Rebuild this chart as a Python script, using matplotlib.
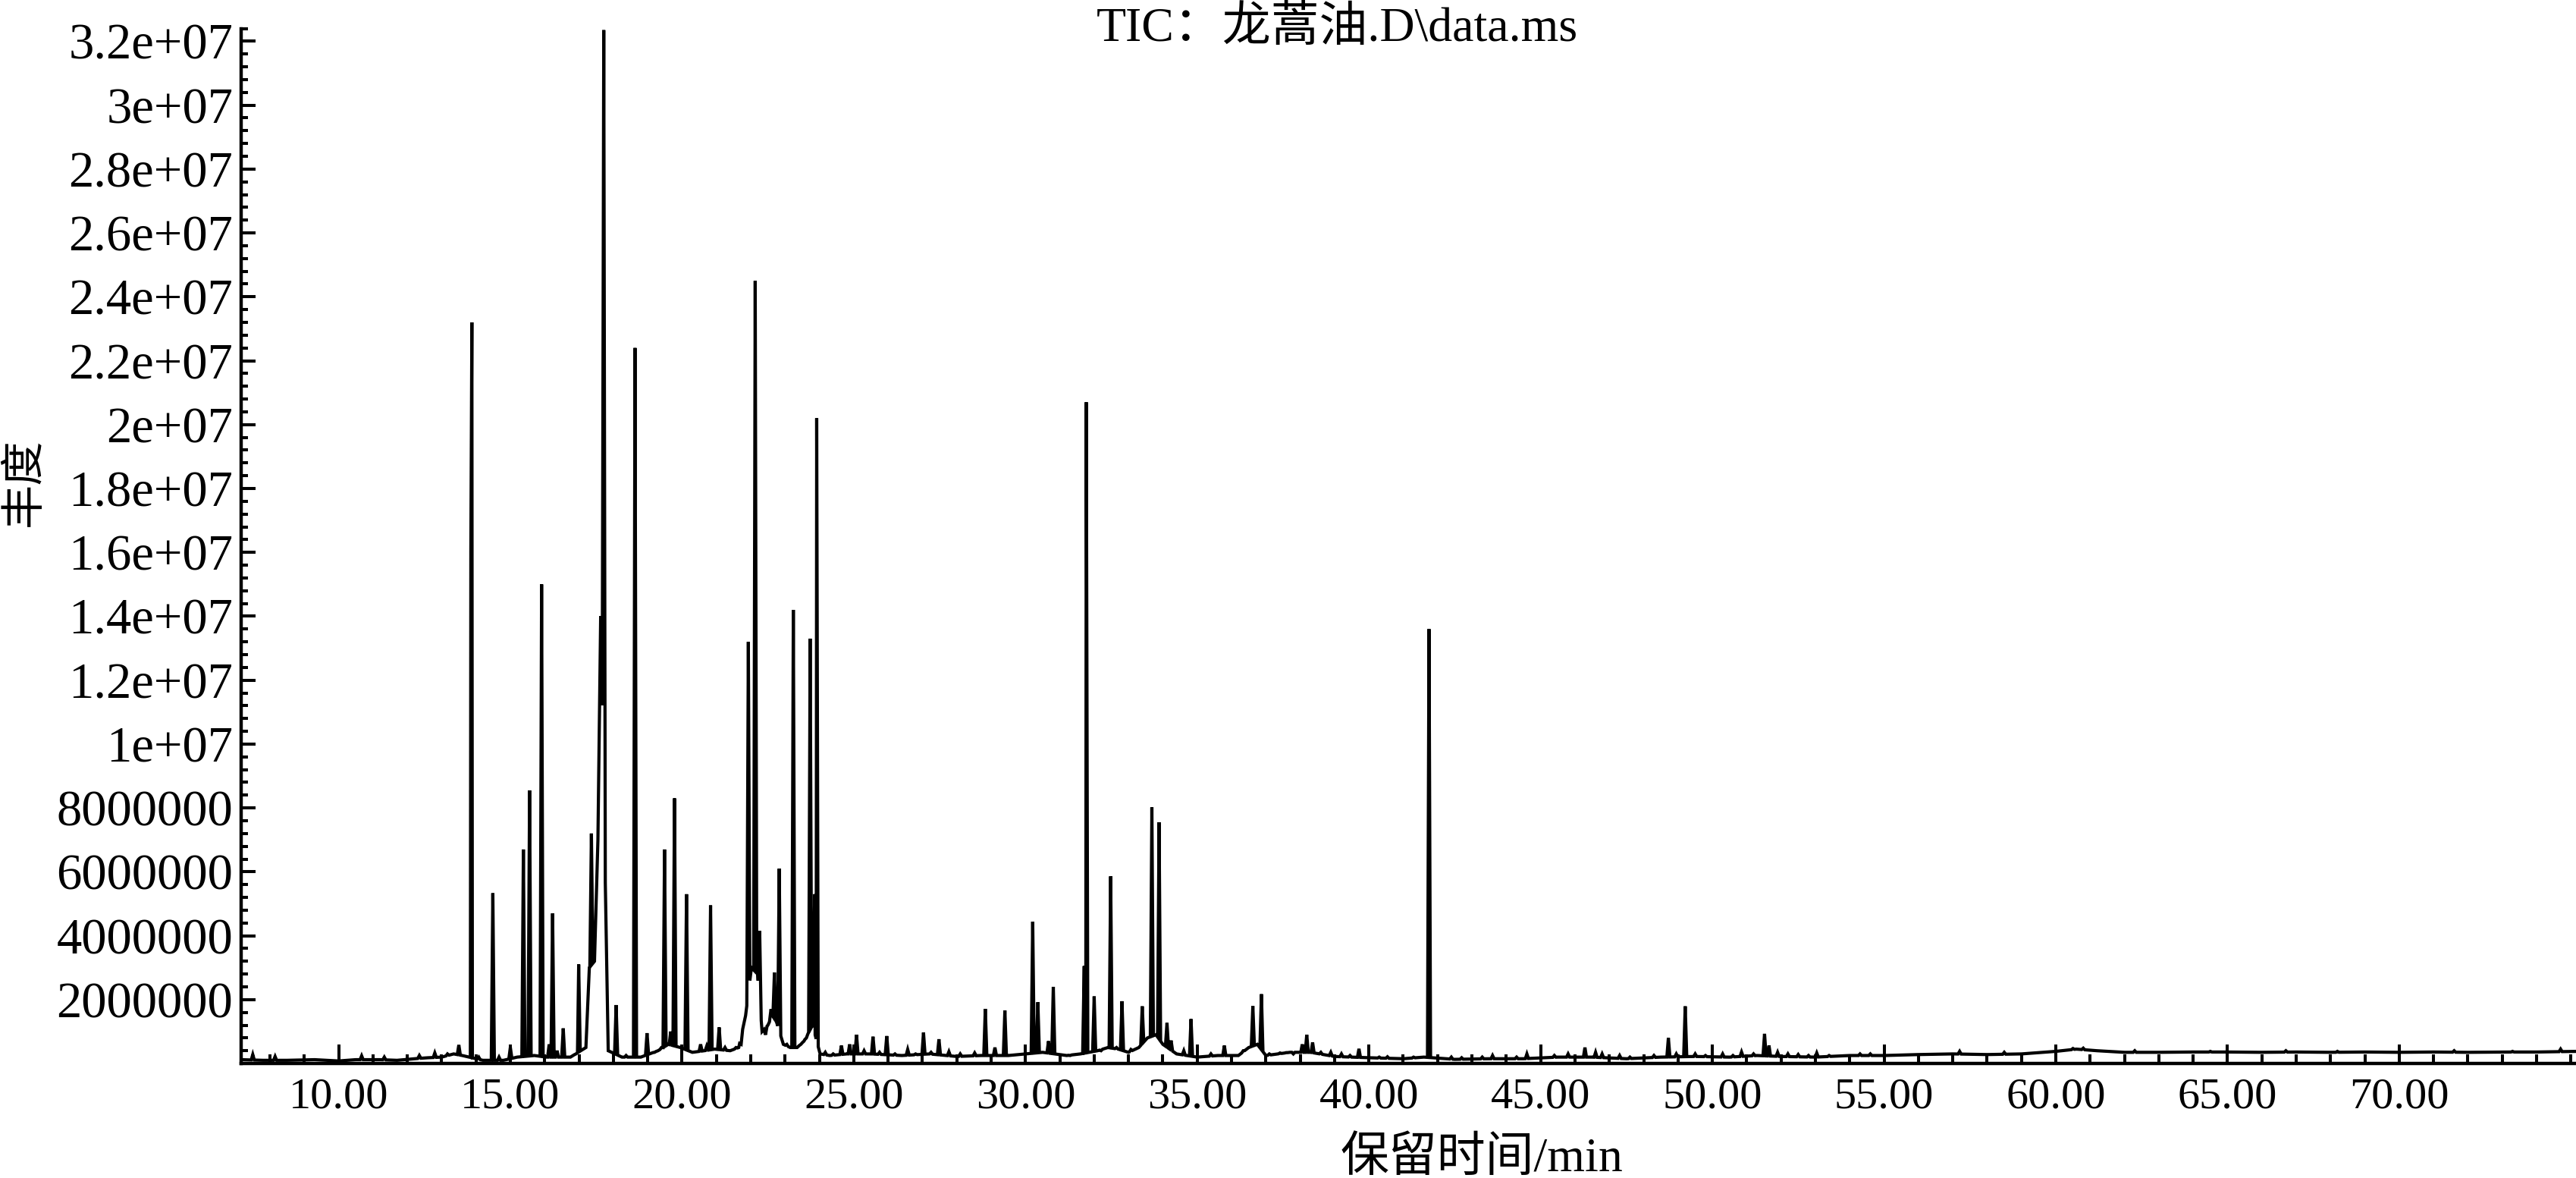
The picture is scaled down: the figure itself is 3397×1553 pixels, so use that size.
import numpy as np
import matplotlib
matplotlib.use("Agg")
import matplotlib.pyplot as plt
from matplotlib.ticker import MultipleLocator, FixedLocator, FuncFormatter

plt.rcParams['font.family'] = ['Liberation Serif', 'Noto Sans CJK SC']

# peaks: retention time (min) and apex abundance (x 1e6)
peak_rt = [7.5, 8.15, 10.67, 11.33, 12.35, 12.8, 13.17, 13.5,
           13.85, 13.88, 14.08, 14.49, 14.67, 15.0, 15.38, 15.56, 15.91, 16.13,
           16.23, 16.36, 16.54, 16.91, 16.99, 17.36, 17.72, 18.08, 18.37, 18.63,
           18.98, 19.2, 19.4, 19.49, 19.67, 19.78, 20.13, 20.54, 20.72, 20.83,
           21.08, 21.25, 21.57, 21.72, 21.93, 22.13, 22.26, 22.43, 22.59, 22.69,
           22.83, 23.05, 23.24, 23.46, 23.62, 23.73, 23.86, 23.92, 24.17, 24.4,
           24.64, 24.88, 25.08, 25.3, 25.56, 25.75, 25.96, 26.2, 26.57, 26.8,
           27.03, 27.25, 27.48, 27.77, 28.1, 28.52, 28.83, 29.11, 29.4, 29.7,
           30.21, 30.36, 30.67, 30.81, 31.3, 31.71, 31.77, 32.0, 32.2, 32.48,
           32.65, 32.81, 33.07, 33.4, 33.68, 33.89, 34.12, 34.24, 34.61, 34.82,
           35.4, 35.79, 36.34, 36.62, 36.87, 37.1, 37.41, 37.59, 37.8, 38.06,
           38.19, 38.36, 38.6, 38.89, 39.2, 39.45, 39.71, 40.3, 40.54, 41.3,
           41.75, 42.4, 42.7, 43.3, 43.6, 44.3, 44.6, 45.4, 45.8, 46.29,
           46.6, 46.79, 47.3, 47.6, 48.3, 48.72, 48.95, 49.21, 49.5, 49.8,
           50.3, 50.6, 50.85, 51.2, 51.52, 51.65, 51.9, 52.2, 52.5, 52.8,
           53.04, 53.4, 54.3, 54.6, 57.2, 58.5, 60.5, 60.8, 62.3, 64.5,
           66.7, 68.2, 71.6, 73.3, 74.7]
peak_abund = [0.28, 0.22, 0.24, 0.2, 0.25, 0.33, 0.3, 0.58,
              16.1, 23.2, 0.2, 5.33, 0.2, 0.5, 6.7, 8.55, 15.0, 0.6,
              4.7, 0.4, 1.1, 0.3, 3.1, 7.2, 32.35, 1.83, 0.25, 22.4,
              0.95, 0.35, 0.5, 6.7, 1.0, 8.3, 5.3, 0.6, 0.55, 4.95,
              1.13, 0.5, 0.5, 0.6, 13.2, 24.5, 4.15, 0.9, 1.7, 2.85,
              6.1, 0.6, 14.2, 0.6, 0.8, 13.3, 5.3, 20.2, 0.35, 0.3,
              0.56, 0.6, 0.9, 0.4, 0.84, 0.35, 0.86, 0.3, 0.44, 0.3,
              0.97, 0.35, 0.76, 0.37, 0.3, 0.33, 1.71, 0.5, 1.66, 0.27,
              4.44, 1.92, 0.7, 2.4, 0.25, 3.05, 20.7, 2.1, 0.4, 5.86,
              0.5, 1.95, 0.44, 1.79, 8.02, 7.55, 1.27, 0.72, 0.4, 1.39,
              0.3, 0.56, 0.4, 1.8, 2.17, 0.3, 0.33, 0.34, 0.3, 0.6,
              0.9, 0.66, 0.35, 0.35, 0.3, 0.25, 0.46, 0.2, 0.21, 0.2,
              13.6, 0.2, 0.18, 0.2, 0.25, 0.2, 0.3, 0.25, 0.3, 0.5,
              0.35, 0.3, 0.25, 0.2, 0.25, 0.8, 0.3, 1.79, 0.3, 0.25,
              0.3, 0.25, 0.36, 0.3, 0.93, 0.56, 0.35, 0.3, 0.28, 0.25,
              0.33, 0.25, 0.3, 0.3, 0.38, 0.35, 0.47, 0.48, 0.4, 0.38,
              0.4, 0.38, 0.4, 0.38, 0.45]

# baseline level between peaks (min, x 1e6)
base_rt = [7.17, 7.8, 8.5, 9.3, 10.0, 10.5, 11.2, 11.7, 12.2, 12.6, 13.0, 13.35,
           13.6, 14.2, 14.8, 15.2, 15.7, 16.05, 16.45, 16.75, 17.2, 17.3, 17.45,
           17.55, 17.63, 17.85, 18.25, 18.8, 19.05, 19.3, 19.6, 19.95, 20.3, 20.65,
           20.95, 21.4, 21.65, 21.85, 22.02, 22.2, 22.33, 22.5, 22.63, 22.75, 22.95,
           23.15, 23.35, 23.55, 23.8, 24.02, 24.3, 24.8, 25.5, 26.4, 27.2, 28.0,
           28.7, 29.5, 30.0, 30.5, 31.2, 31.6, 32.1, 32.4, 32.7, 33.0, 33.3, 33.55,
           33.8, 34.0, 34.4, 35.0, 35.6, 36.2, 36.5, 36.75, 37.0, 37.7, 38.3, 39.0,
           40.0, 41.0, 41.6, 42.5, 43.5, 44.5, 45.5, 46.5, 47.5, 48.5, 49.5, 50.5,
           51.3, 52.0, 53.0, 54.0, 55.0, 56.0, 57.0, 58.0, 59.0, 60.0, 60.6, 61.2,
           62.0, 63.0, 64.0, 65.0, 66.0, 67.0, 68.0, 69.0, 70.0, 71.0, 72.0, 73.0,
           74.0, 75.2]
base_abund = [0.12, 0.1, 0.1, 0.12, 0.08, 0.12, 0.12, 0.1, 0.15, 0.18, 0.2, 0.3,
              0.25, 0.1, 0.1, 0.2, 0.25, 0.2, 0.2, 0.2, 0.5, 3.0, 3.2,
              7.0, 14.0, 0.4, 0.2, 0.2, 0.3, 0.4, 0.6, 0.5, 0.35, 0.4,
              0.45, 0.4, 0.5, 1.5, 3.0, 2.8, 1.0, 1.2, 1.5, 1.3, 0.6,
              0.5, 0.5, 0.7, 1.2, 0.3, 0.25, 0.3, 0.3, 0.25, 0.3, 0.22,
              0.25, 0.25, 0.3, 0.35, 0.25, 0.3, 0.4, 0.5, 0.45, 0.35, 0.5, 0.8,
              0.9, 0.6, 0.3, 0.2, 0.25, 0.25, 0.5, 0.6, 0.25, 0.35, 0.35, 0.22,
              0.18, 0.15, 0.2, 0.13, 0.15, 0.15, 0.2, 0.2, 0.15, 0.2, 0.22, 0.2,
              0.25, 0.22, 0.2, 0.25, 0.25, 0.28, 0.3, 0.28, 0.3, 0.38, 0.45, 0.4,
              0.35, 0.35, 0.36, 0.36, 0.35, 0.36, 0.35, 0.36, 0.35, 0.36, 0.35, 0.36,
              0.36, 0.38]

x_major = [10, 15, 20, 25, 30, 35, 40, 45, 50, 55, 60, 65, 70]
title_text = "TIC：龙蒿油.D\\data.ms"
x_label = "保留时间/min"
y_label = "丰度"

# build the trace: baseline anchors plus a narrow triangle for every peak
half_w = 0.045
prt = np.array(peak_rt)
pab = np.array(peak_abund) * 1e6
brt = np.array(base_rt)
bab = np.array(base_abund) * 1e6
keep = np.array([np.min(np.abs(prt - t)) > half_w for t in brt])

left = prt - half_w
right = prt + half_w
tri_x = np.column_stack([left, prt, right]).ravel()
tri_y = np.column_stack([np.interp(left, brt, bab), pab, np.interp(right, brt, bab)]).ravel()

x_all = np.concatenate([brt[keep], tri_x])
y_all = np.concatenate([bab[keep], tri_y])
order = np.argsort(x_all, kind="stable")

fig = plt.figure(figsize=(16.99, 7.765), dpi=200)
ax = fig.add_axes([0.0937, 0.0972, 0.9063, 0.8786])
ax.plot(x_all[order], y_all[order], color="black", lw=1.5, solid_joinstyle="miter")

ax.set_xlim(7.17, 75.17)
ax.set_ylim(0, 3.24e7)

for s in ["top", "right"]:
    ax.spines[s].set_visible(False)
for s in ["left", "bottom"]:
    ax.spines[s].set_linewidth(1.6)

ax.xaxis.set_major_locator(FixedLocator(x_major))
ax.xaxis.set_minor_locator(MultipleLocator(1))
ax.xaxis.set_major_formatter(FuncFormatter(lambda v, p: "%.2f" % v))
ax.yaxis.set_major_locator(MultipleLocator(2e6))
ax.yaxis.set_minor_locator(MultipleLocator(4e5))


def fmt_y(v, pos):
    if v <= 0:
        return ""
    if v < 1e7:
        return "%d" % v
    return "%g" % v


ax.yaxis.set_major_formatter(FuncFormatter(fmt_y))

ax.tick_params(axis="x", which="major", direction="in", length=9, width=1.45, labelsize=21, pad=6.5)
ax.tick_params(axis="x", which="minor", direction="in", length=4.5, width=1.45)
ax.tick_params(axis="y", which="major", direction="in", length=6.8, width=1.45, labelsize=24, pad=4)
ax.tick_params(axis="y", which="minor", direction="in", length=3.2, width=1.45)

fig.text(0.519, 0.975, title_text, ha="center", va="center", fontsize=23)
fig.text(0.575, 0.016, x_label, ha="center", va="center", fontsize=23)
fig.text(0.0097, 0.591, y_label, ha="center", va="center", rotation=90, fontsize=21)

fig.savefig("out.png", dpi=200)
